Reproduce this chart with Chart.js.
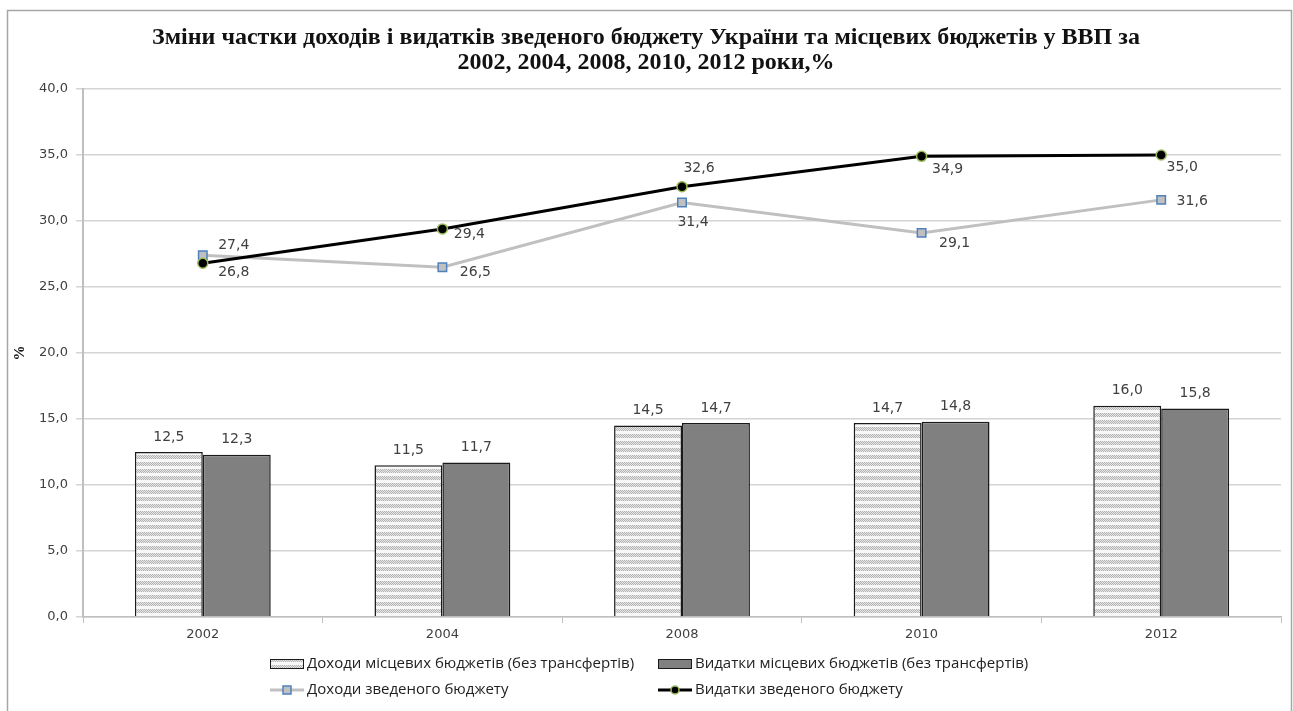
<!DOCTYPE html>
<html>
<head>
<meta charset="utf-8">
<script src="https://cdn.jsdelivr.net/npm/chart.js@4.4.1/dist/chart.umd.min.js"></script>
<style>
  html, body { margin: 0; padding: 0; background: #fff; }
  #wrap { position: relative; width: 1293px; height: 711px; }
</style>
</head>
<body>
<div id="wrap"><canvas id="budgetChart" width="1293" height="711"></canvas></div>
<script>
'use strict';

// Data, % of GDP
var years = ['2002', '2004', '2008', '2010', '2012'];
var localIncome = [12.5, 11.5, 14.5, 14.7, 16.0];   // доходи місцевих бюджетів (без трансфертів)
var localSpend = [12.3, 11.7, 14.7, 14.8, 15.8];    // видатки місцевих бюджетів (без трансфертів)
var consIncome = [27.4, 26.5, 31.4, 29.1, 31.6];    // доходи зведеного бюджету
var consSpend = [26.8, 29.4, 32.6, 34.9, 35.0];     // видатки зведеного бюджету
var yMin = 0, yMax = 40, yStep = 5;

var titleLines = [
  'Зміни частки доходів і видатків зведеного бюджету України та місцевих бюджетів у ВВП за',
  '2002, 2004, 2008, 2010, 2012 роки,%'
];
var yTitle = '%';

// where the value labels of the two lines sit relative to their points
var consIncomeLabelPos = [[31, -10], [33, 5], [11, 20], [33, 10], [31, 1]];
var consSpendLabelPos = [[31, 9], [27, 5], [17, -18], [26, 13], [21, 12]];

var labelFont = '14px "DejaVu Sans"';
var labelColor = '#404040';

function fmt(v) {
  return v.toFixed(1).replace('.', ',');
}

// striped fill used for the local income bars
function makeStripes() {
  var c = document.createElement('canvas');
  c.width = 4; c.height = 7;
  var g = c.getContext('2d');
  g.fillStyle = '#f7f7f7';
  g.fillRect(0, 0, 4, 7);
  for (var y = 0; y < 4; y++) {
    for (var x = 0; x < 4; x++) {
      g.fillStyle = (x + y) % 2 === 0 ? '#b4b4b4' : '#e6e6e6';
      g.fillRect(x, y, 1, 1);
    }
  }
  return document.getElementById('budgetChart').getContext('2d').createPattern(c, 'repeat');
}
var stripes = makeStripes();

var framePlugin = {
  id: 'frame',
  beforeDraw: function(chart) {
    var ctx = chart.ctx;
    ctx.save();
    ctx.fillStyle = '#fff';
    ctx.fillRect(0, 0, chart.width, chart.height);
    ctx.strokeStyle = '#a6a6a6';
    ctx.lineWidth = 1.5;
    ctx.strokeRect(7.5, 10.5, 1284, 710);

    // title
    ctx.fillStyle = '#111';
    ctx.font = 'bold 24px "Liberation Serif"';
    ctx.textAlign = 'center';
    ctx.textBaseline = 'middle';
    ctx.fillText(titleLines[0], 646, 38);
    ctx.fillText(titleLines[1], 646, 63);

    // y axis title
    ctx.translate(20, 353);
    ctx.rotate(-Math.PI / 2);
    ctx.font = 'bold 15px "Liberation Serif"';
    ctx.fillText(yTitle, 0, 0);
    ctx.restore();
  }
};

var valueLabels = {
  id: 'valueLabels',
  afterDatasetsDraw: function(chart) {
    var ctx = chart.ctx;
    ctx.save();
    ctx.font = labelFont;
    ctx.fillStyle = labelColor;
    ctx.textAlign = 'center';
    ctx.textBaseline = 'middle';
    chart.data.datasets.forEach(function(ds, i) {
      var meta = chart.getDatasetMeta(i);
      meta.data.forEach(function(el, j) {
        var dx = 0, dy = -15;
        if (ds.labelPos) {
          dx = ds.labelPos[j][0];
          dy = ds.labelPos[j][1];
        }
        ctx.fillText(fmt(ds.data[j]), el.x + dx, el.y + dy);
      });
    });
    ctx.restore();
  }
};

// two-column legend under the axis
var legendBox = {
  id: 'legendBox',
  afterDraw: function(chart) {
    var ctx = chart.ctx;
    var ds = chart.data.datasets;
    var cols = [270, 658];
    var rows = [664, 690];
    var items = [
      { d: ds[0], x: cols[0], y: rows[0], kind: 'bar' },
      { d: ds[1], x: cols[1], y: rows[0], kind: 'bar' },
      { d: ds[2], x: cols[0], y: rows[1], kind: 'line' },
      { d: ds[3], x: cols[1], y: rows[1], kind: 'line' }
    ];
    ctx.save();
    ctx.font = '15px "Open Sans"';
    ctx.textBaseline = 'middle';
    ctx.textAlign = 'left';
    items.forEach(function(it) {
      var d = it.d;
      if (it.kind === 'bar') {
        ctx.fillStyle = d.backgroundColor;
        ctx.fillRect(it.x, it.y - 5, 34, 10);
        ctx.strokeStyle = d.borderColor;
        ctx.lineWidth = 1;
        ctx.strokeRect(it.x + 0.5, it.y - 4.5, 33, 9);
      } else {
        ctx.strokeStyle = d.borderColor;
        ctx.lineWidth = d.borderWidth;
        ctx.beginPath();
        ctx.moveTo(it.x, it.y);
        ctx.lineTo(it.x + 34, it.y);
        ctx.stroke();
        ctx.fillStyle = d.pointBackgroundColor;
        ctx.strokeStyle = d.pointBorderColor;
        ctx.lineWidth = 1.5;
        if (d.pointStyle === 'rect') {
          ctx.fillRect(it.x + 13, it.y - 4, 8, 8);
          ctx.strokeRect(it.x + 13, it.y - 4, 8, 8);
        } else {
          ctx.beginPath();
          ctx.arc(it.x + 17, it.y, 4, 0, Math.PI * 2);
          ctx.fill();
          ctx.stroke();
        }
      }
      ctx.fillStyle = '#222';
      ctx.fillText(d.label, it.x + 37, it.y);
    });
    ctx.restore();
  }
};

new Chart(document.getElementById('budgetChart'), {
  data: {
    labels: years,
    datasets: [{
      type: 'bar',
      label: 'Доходи місцевих бюджетів (без трансфертів)',
      data: localIncome,
      backgroundColor: stripes,
      borderColor: '#1a1a1a',
      borderWidth: 1.5,
      categoryPercentage: 0.567,
      barPercentage: 1.0,
      order: 3
    }, {
      type: 'bar',
      label: 'Видатки місцевих бюджетів (без трансфертів)',
      data: localSpend,
      backgroundColor: '#808080',
      borderColor: '#1a1a1a',
      borderWidth: 1.5,
      categoryPercentage: 0.567,
      barPercentage: 1.0,
      order: 3
    }, {
      type: 'line',
      label: 'Доходи зведеного бюджету',
      data: consIncome,
      borderColor: '#c0c0c0',
      borderWidth: 3,
      pointStyle: 'rect',
      pointRadius: 6,
      pointBackgroundColor: '#c0c0c0',
      pointBorderColor: '#4f81bd',
      pointBorderWidth: 1.5,
      tension: 0,
      labelPos: consIncomeLabelPos,
      order: 2
    }, {
      type: 'line',
      label: 'Видатки зведеного бюджету',
      data: consSpend,
      borderColor: '#000',
      borderWidth: 3,
      pointStyle: 'circle',
      pointRadius: 5,
      pointBackgroundColor: '#000',
      pointBorderColor: '#9bbb59',
      pointBorderWidth: 1.5,
      tension: 0,
      labelPos: consSpendLabelPos,
      order: 1
    }]
  },
  options: {
    responsive: false,
    animation: false,
    layout: { padding: { top: 89, left: 0, right: 12, bottom: 64 } },
    plugins: {
      legend: { display: false },
      title: { display: false },
      tooltip: { enabled: false }
    },
    scales: {
      x: {
        grid: { display: true, drawOnChartArea: false, offset: true, tickLength: 6, color: '#bfbfbf' },
        border: { color: '#bfbfbf', width: 1.5 },
        ticks: { font: { family: 'DejaVu Sans', size: 13 }, color: '#404040', padding: 4 },
        afterFit: function(s) { s.height = 30; }
      },
      y: {
        min: yMin,
        max: yMax,
        ticks: {
          stepSize: yStep,
          font: { family: 'DejaVu Sans', size: 13 },
          color: '#404040',
          padding: 8,
          callback: function(v) { return fmt(v); }
        },
        grid: { color: '#d4d4d4', lineWidth: 1.5, tickLength: 7 },
        border: { color: '#bfbfbf', width: 2 },
        afterFit: function(s) { s.width = 83; }
      }
    }
  },
  plugins: [framePlugin, valueLabels, legendBox]
});
</script>
</body>
</html>
